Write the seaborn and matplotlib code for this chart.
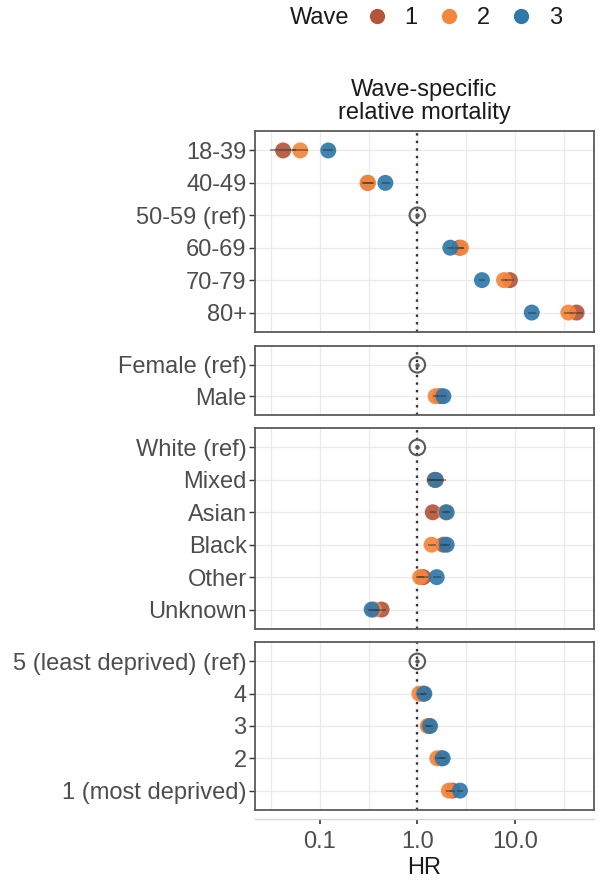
import numpy as np
import pandas as pd
import matplotlib
matplotlib.use("Agg")
import matplotlib.pyplot as plt
import seaborn as sns
from matplotlib.lines import Line2D

# ---------------- data ----------------
waves = ["1", "2", "3"]
wave_colors = ["#B4553A", "#F5873C", "#2E78AA"]

age_labels = ["18-39", "40-49", "50-59 (ref)", "60-69", "70-79", "80+"]
age_w1 = [0.042, 0.31, 1.0, 2.7, 8.9, 43.0]
age_w2 = [0.063, 0.31, 1.0, 2.8, 7.75, 35.4]
age_w3 = [0.122, 0.47, 1.0, 2.18, 4.6, 14.9]
age_lo = [[0.031, 0.27, 1.0, 2.45, 8.0, 38.0],
          [0.052, 0.28, 1.0, 2.6, 7.2, 32.0],
          [0.108, 0.43, 1.0, 2.0, 4.25, 13.6]]
age_hi = [[0.057, 0.36, 1.0, 3.0, 9.9, 50.0],
          [0.076, 0.35, 1.0, 3.0, 8.4, 39.0],
          [0.138, 0.52, 1.0, 2.38, 5.0, 16.3]]

sex_labels = ["Female (ref)", "Male"]
sex_w1 = [1.0, 1.70]
sex_w2 = [1.0, 1.54]
sex_w3 = [1.0, 1.85]
sex_lo = [[1.0, 1.60], [1.0, 1.46], [1.0, 1.75]]
sex_hi = [[1.0, 1.80], [1.0, 1.63], [1.0, 1.96]]

eth_labels = ["White (ref)", "Mixed", "Asian", "Black", "Other", "Unknown"]
eth_w1 = [1.0, 1.55, 1.44, 1.85, 1.15, 0.43]
eth_w2 = [1.0, 1.50, 1.95, 1.40, 1.07, 0.36]
eth_w3 = [1.0, 1.52, 2.00, 2.00, 1.58, 0.34]
eth_lo = [[1.0, 1.25, 1.34, 1.70, 1.02, 0.38],
          [1.0, 1.28, 1.80, 1.28, 0.98, 0.32],
          [1.0, 1.32, 1.86, 1.84, 1.44, 0.31]]
eth_hi = [[1.0, 1.98, 1.55, 2.02, 1.30, 0.48],
          [1.0, 1.78, 2.10, 1.54, 1.18, 0.40],
          [1.0, 1.76, 2.16, 2.18, 1.74, 0.38]]

imd_labels = ["5 (least deprived) (ref)", "4", "3", "2", "1 (most deprived)"]
imd_w1 = [1.0, 1.15, 1.30, 1.75, 2.30]
imd_w2 = [1.0, 1.05, 1.28, 1.60, 2.11]
imd_w3 = [1.0, 1.18, 1.35, 1.82, 2.74]
imd_lo = [[1.0, 1.08, 1.22, 1.65, 2.15],
          [1.0, 0.99, 1.20, 1.51, 1.98],
          [1.0, 1.10, 1.26, 1.70, 2.55]]
imd_hi = [[1.0, 1.23, 1.39, 1.86, 2.46],
          [1.0, 1.12, 1.36, 1.70, 2.25],
          [1.0, 1.27, 1.45, 1.95, 2.95]]

# ---------------- style ----------------
sns.set_theme(style="white")
plt.rcParams["font.family"] = ["Liberation Sans", "DejaVu Sans"]

W, H = 603, 883
fig = plt.figure(figsize=(W / 100, H / 100), dpi=100)

LEFT, RIGHT = 255, 594
XLIM = (10 ** -1.665, 10 ** 1.812)
FS = 17

def frect(top, bottom):
    return [LEFT / W, 1 - bottom / H, (RIGHT - LEFT) / W, (bottom - top) / H]

panels = [
    (age_labels, [age_w1, age_w2, age_w3], age_lo, age_hi, (131, 332)),
    (sex_labels, [sex_w1, sex_w2, sex_w3], sex_lo, sex_hi, (346, 415)),
    (eth_labels, [eth_w1, eth_w2, eth_w3], eth_lo, eth_hi, (428, 629)),
    (imd_labels, [imd_w1, imd_w2, imd_w3], imd_lo, imd_hi, (642, 810)),
]

axes = []
for labels, hrs, los, his, (top, bottom) in panels:
    ax = fig.add_axes(frect(top, bottom))
    ax.set_xscale("log")
    rows = []
    for wi, w in enumerate(waves):
        for li, lab in enumerate(labels):
            if "(ref)" in lab:
                continue
            rows.append(dict(label=lab, wave=w, hr=hrs[wi][li],
                             lo=los[wi][li], hi=his[wi][li]))
    df = pd.DataFrame(rows)
    sns.stripplot(data=df, x="hr", y="label", hue="wave", order=labels,
                  hue_order=waves, palette=wave_colors, jitter=False,
                  dodge=False, size=11.5, alpha=0.92, linewidth=0,
                  legend=False, ax=ax, zorder=3)
    pos = {lab: i for i, lab in enumerate(labels)}
    for _, r in df.iterrows():
        ax.hlines(pos[r["label"]], r["lo"], r["hi"], color="#3a3a3a",
                  lw=1.1, alpha=0.65, zorder=4)
    for lab in labels:
        if "(ref)" in lab:
            ax.scatter([1.0], [pos[lab]], s=125, facecolors="none",
                       edgecolors="#5a5a5a", linewidths=1.5, zorder=5)
            ax.scatter([1.0], [pos[lab]], s=5, color="#5a5a5a", zorder=5)
    ax.axvline(1.0, color="#333333", ls=(0, (1, 2.2)), lw=1.7, zorder=2.5)
    ax.set_xlim(*XLIM)
    ax.set_ylim(len(labels) - 1 + 0.6, -0.6)
    ax.set_xticks([0.1, 1, 10])
    ax.set_xticks([10 ** -1.5, 10 ** -0.5, 10 ** 0.5, 10 ** 1.5], minor=True)
    ax.tick_params(axis="x", which="both", length=0, labelbottom=False)
    ax.tick_params(axis="y", length=4, width=1, color="#333333",
                   labelsize=FS, labelcolor="#4D4D4D", pad=2, left=True)
    ax.grid(True, which="major", color="#EAEAEA", lw=0.9)
    ax.grid(True, which="minor", axis="x", color="#EAEAEA", lw=0.9)
    ax.set_axisbelow(True)
    for s in ax.spines.values():
        s.set_color("#5a5a5a")
        s.set_linewidth(1.3)
    ax.set_xlabel("")
    ax.set_ylabel("")
    axes.append(ax)

axes[0].set_title("Wave-specific\nrelative mortality", fontsize=FS,
                  color="#1A1A1A", pad=8.4, linespacing=1.05)

# separate x axis below the panels
axx = fig.add_axes([LEFT / W, 1 - 819 / H, (RIGHT - LEFT) / W, 1e-4])
axx.set_xscale("log")
axx.set_xlim(*XLIM)
axx.set_yticks([])
axx.patch.set_alpha(0)
for k in ["top", "left", "right"]:
    axx.spines[k].set_visible(False)
axx.spines["bottom"].set_color("#D5D5D5")
axx.spines["bottom"].set_linewidth(0.9)
axx.set_xticks([0.1, 1, 10])
axx.set_xticklabels(["0.1", "1.0", "10.0"])
axx.set_xticks([], minor=True)
axx.tick_params(axis="x", length=3.5, width=1.2, color="#333333",
                labelsize=FS, labelcolor="#4D4D4D", pad=5, bottom=True)
axx.set_xlabel("HR", fontsize=FS, color="#1A1A1A", labelpad=3)

# legend
fig.text(290 / W, 1 - 18.5 / H, "Wave", fontsize=FS, color="#1A1A1A",
         ha="left", va="center")
handles = [Line2D([0], [0], marker="o", ls="none", markersize=11,
                  markerfacecolor=c, markeredgewidth=0) for c in wave_colors]
fig.legend(handles, waves, loc="center left",
           bbox_to_anchor=(364.9 / W, 1 - 18.5 / H), ncol=3, frameon=False,
           fontsize=FS, handlelength=1.0, handletextpad=0.66,
           columnspacing=0.85, borderpad=0, borderaxespad=0,
           labelcolor="#1A1A1A")

fig.savefig("out.png", dpi=100)
